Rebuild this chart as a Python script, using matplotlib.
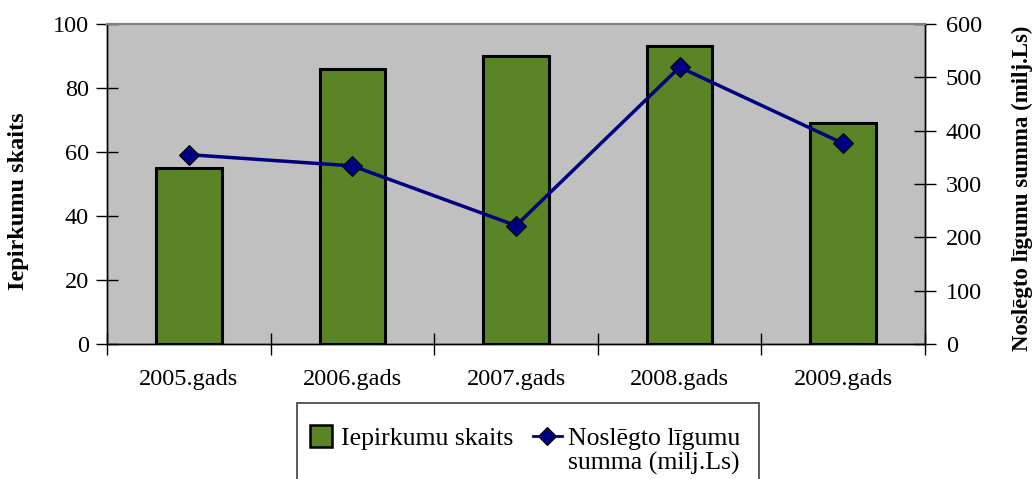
import matplotlib
matplotlib.use("Agg")
import matplotlib.pyplot as plt
import matplotlib.patches as mpatches
from matplotlib.legend_handler import HandlerPatch
import numpy as np

# ── data ──────────────────────────────────────────────────────────────────────
years     = ["2005.gads", "2006.gads", "2007.gads", "2008.gads", "2009.gads"]
n_tenders = [55, 86, 90, 93, 69]            # Iepirkumu skaits (left axis)
contracts = [355, 334, 222, 519, 376]       # Noslēgto līgumu summa, milj.Ls (right axis)

GREEN = "#5A8526"
NAVY  = "#000080"

plt.rcParams["font.family"] = ["Liberation Serif", "DejaVu Serif"]

W, H = 1035, 479
fig = plt.figure(figsize=(W / 100, H / 100), dpi=100)
ax = fig.add_axes([107 / W, 1 - 344 / H, 818 / W, 320 / H])
ax.set_facecolor("#C0C0C0")

x = np.arange(len(years))
ax.bar(x, n_tenders, width=0.4, color=GREEN, edgecolor="black", lw=2.2, zorder=2)
ax.set_xlim(-0.5, len(years) - 0.5)
ax.set_ylim(0, 100)
ax.set_yticks(range(0, 101, 20))

ax2 = ax.twinx()
ax2.plot(x, contracts, color=NAVY, lw=2.5, marker="D", ms=10,
         mfc=NAVY, mec="black", mew=0.8, zorder=3)
ax2.set_ylim(0, 600)
ax2.set_yticks(range(0, 601, 100))

# x ticks: labels at centres, crossing ticks at category boundaries
ax.set_xticks(x)
ax.set_xticklabels(years)
ax.tick_params(axis="x", which="major", length=0, pad=18, labelsize=17.5)
ax.set_xticks(np.arange(-0.5, len(years)), minor=True)
ax.tick_params(axis="x", which="minor", direction="inout", length=16, width=1)

ax.tick_params(axis="y", direction="inout", length=16, width=1, pad=5, labelsize=17.5)
ax2.tick_params(axis="y", direction="inout", length=16, width=1, pad=7, labelsize=17.5)

for a in (ax, ax2):
    a.spines["top"].set_color("#808080")
    a.spines["top"].set_linewidth(1.5)
    for s in ("left", "right", "bottom"):
        a.spines[s].set_color("black")
        a.spines[s].set_linewidth(1)

fig.text(19 / W, 1 - 201 / H, "Iepirkumu skaits", rotation=90, fontsize=17.5,
         fontweight="bold", ha="center", va="center")
fig.text(1022 / W, 1 - 188 / H, "Noslēgto līgumu summa (milj.Ls)", rotation=90,
         fontsize=16.5, fontweight="bold", ha="center", va="center")


# ── legend ────────────────────────────────────────────────────────────────────
def square_patch(legend, orig_handle, xdescent, ydescent, width, height, fontsize):
    s = height * 1.25
    return mpatches.Rectangle((-xdescent + (width - s) / 2, -ydescent + (height - s) / 2), s, s)


# legend frame runs past the bottom edge of the image, as in the original
fig.patches.append(mpatches.Rectangle((297 / W, -20 / H), 462 / W, (479 - 403 + 20) / H,
                                      transform=fig.transFigure, facecolor="white",
                                      edgecolor="#404040", lw=1.2))

h_bar = mpatches.Rectangle((0, 0), 1, 1, facecolor=GREEN, edgecolor="black", lw=1.8)
h_line, = ax2.plot([], [], color=NAVY, lw=2, marker="D", ms=9,
                   mfc=NAVY, mec="black", mew=0.8)
h_none = mpatches.Rectangle((0, 0), 1, 1, alpha=0)

leg = fig.legend([h_bar, h_none, h_line, h_none],
                 ["Iepirkumu skaits", "", "Noslēgto līgumu", "summa (milj.Ls)"],
                 loc="upper left", bbox_to_anchor=(297 / W, 1 - 418 / H),
                 borderaxespad=0, ncol=2, fontsize=18.5, frameon=False,
                 handlelength=1.15, handletextpad=0.22, columnspacing=0.75,
                 borderpad=0.35, labelspacing=0.08,
                 handler_map={h_bar: HandlerPatch(patch_func=square_patch)})

fig.savefig("out.png", dpi=100)
